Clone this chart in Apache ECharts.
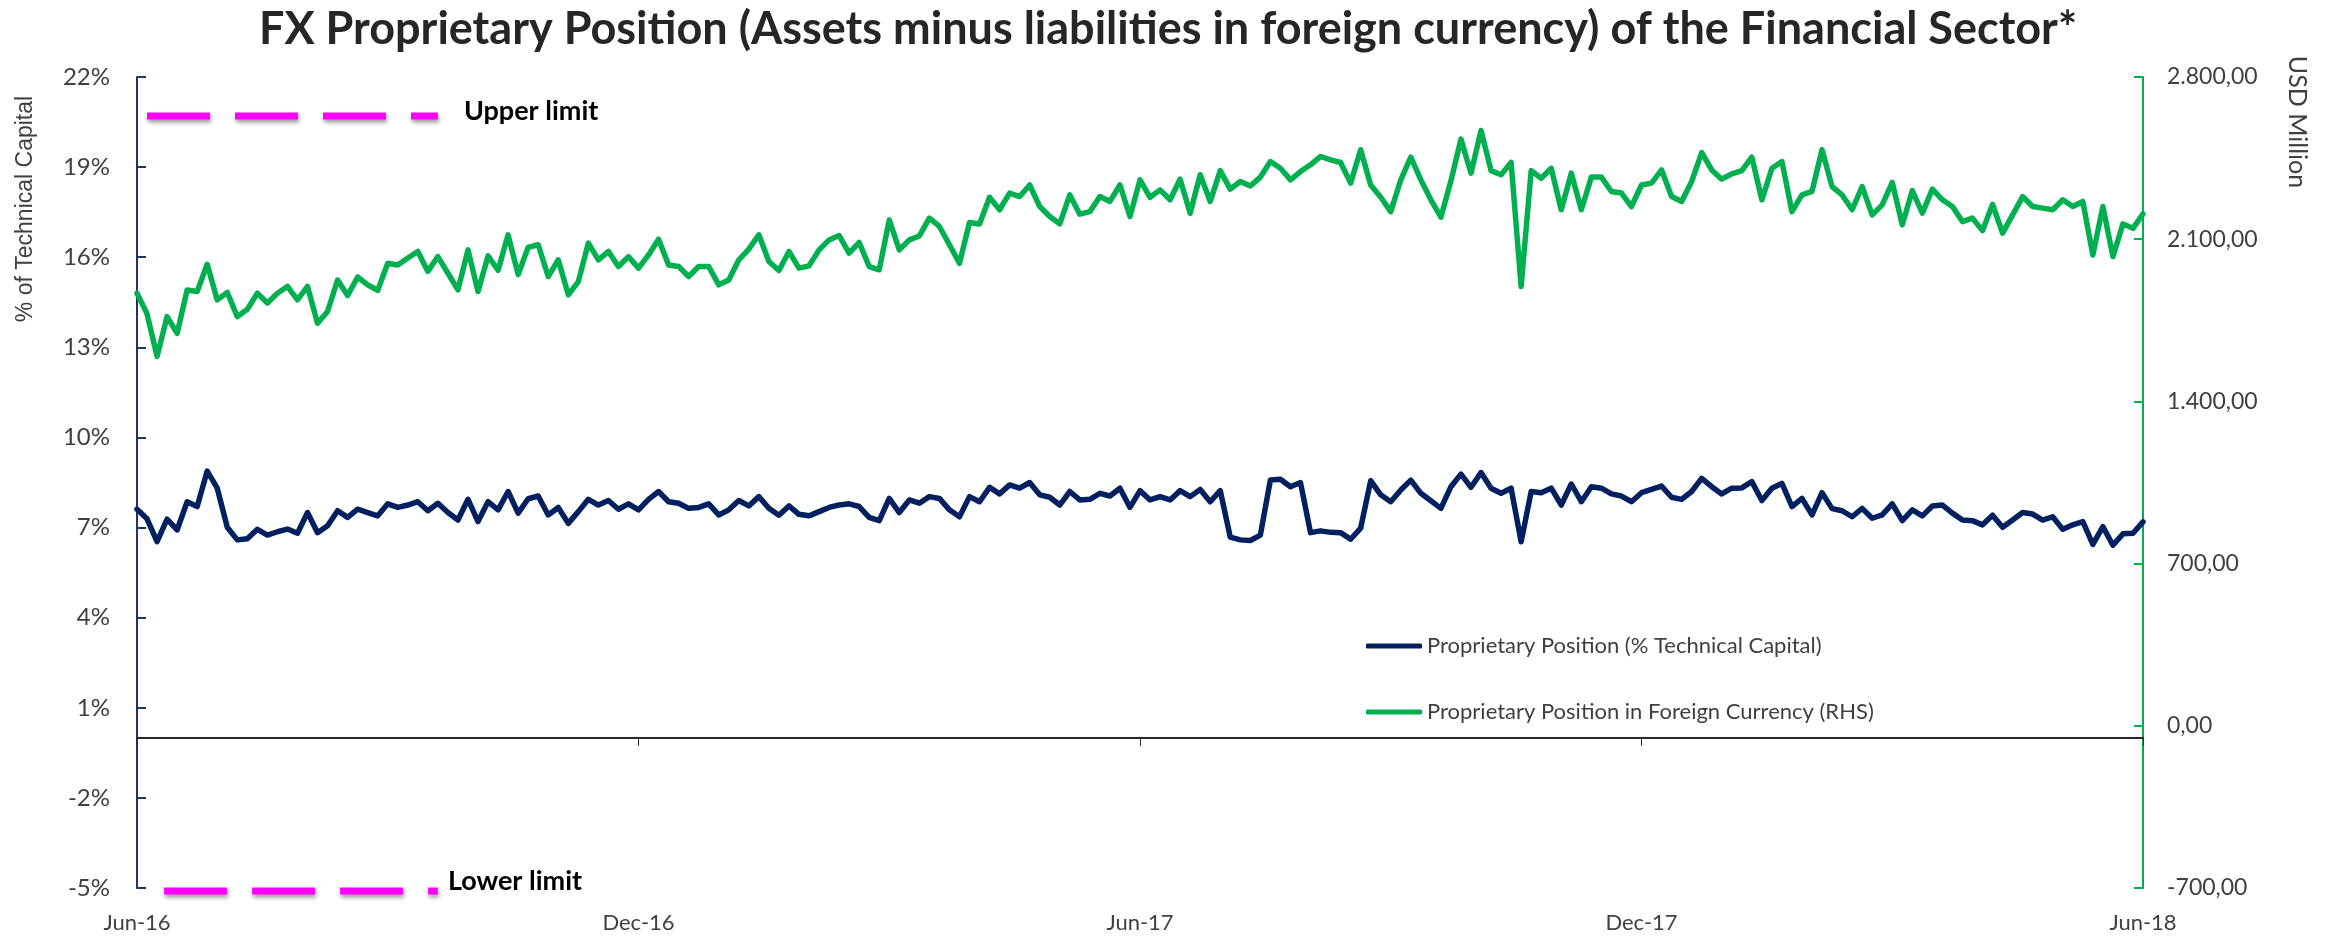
<!DOCTYPE html>
<html>
<head>
<meta charset="utf-8">
<title>FX Proprietary Position</title>
<script src="https://cdn.jsdelivr.net/npm/echarts@6/dist/echarts.min.js"></script>
<style>
  html, body { margin: 0; padding: 0; background: #fff; }
  #chart { width: 2336px; height: 937px; }
</style>
</head>
<body>
<div id="chart"></div>
<script>
// tick labels on the date axis, one every 50 samples
const tickLabels = ['Jun-16', 'Dec-16', 'Jun-17', 'Dec-17', 'Jun-18']
const pointsPerTick = 50

// Proprietary Position (% Technical Capital), left axis
const positionPct = [
  7.61, 7.29, 6.53, 7.28, 6.92, 7.86, 7.70, 8.88, 8.31, 7.01, 6.59, 6.63, 6.94, 6.75, 6.86, 6.95, 6.81, 7.50, 6.83, 7.06,
  7.56, 7.34, 7.61, 7.50, 7.39, 7.79, 7.67, 7.75, 7.86, 7.56, 7.81, 7.50, 7.25, 7.94, 7.20, 7.86, 7.59, 8.20, 7.48, 7.96,
  8.05, 7.42, 7.67, 7.14, 7.53, 7.94, 7.75, 7.90, 7.61, 7.79, 7.59, 7.94, 8.20, 7.86, 7.81, 7.64, 7.67, 7.79, 7.42, 7.59,
  7.90, 7.72, 8.03, 7.64, 7.41, 7.72, 7.44, 7.39, 7.53, 7.67, 7.75, 7.79, 7.70, 7.34, 7.23, 7.97, 7.50, 7.92, 7.81, 8.03,
  7.97, 7.59, 7.36, 8.03, 7.86, 8.34, 8.12, 8.42, 8.31, 8.50, 8.09, 8.01, 7.75, 8.20, 7.92, 7.94, 8.14, 8.05, 8.31, 7.67,
  8.23, 7.92, 8.03, 7.92, 8.23, 8.03, 8.27, 7.86, 8.23, 6.68, 6.59, 6.57, 6.75, 8.58, 8.61, 8.36, 8.50, 6.83, 6.89, 6.84,
  6.83, 6.61, 6.98, 8.56, 8.09, 7.86, 8.25, 8.58, 8.14, 7.89, 7.64, 8.36, 8.78, 8.34, 8.83, 8.31, 8.14, 8.31, 6.53, 8.20,
  8.16, 8.31, 7.75, 8.45, 7.86, 8.36, 8.31, 8.12, 8.05, 7.86, 8.16, 8.27, 8.38, 8.01, 7.94, 8.20, 8.64, 8.36, 8.12, 8.31,
  8.32, 8.53, 7.90, 8.31, 8.47, 7.70, 7.97, 7.42, 8.16, 7.63, 7.56, 7.36, 7.64, 7.31, 7.42, 7.79, 7.23, 7.59, 7.39, 7.72,
  7.75, 7.48, 7.25, 7.23, 7.09, 7.41, 7.01, 7.25, 7.50, 7.45, 7.25, 7.36, 6.94, 7.09, 7.20, 6.44, 7.03, 6.41, 6.79, 6.81,
  7.19
]

// Proprietary Position in Foreign Currency, USD million, right axis
const positionUsd = [
  1867, 1778, 1594, 1766, 1694, 1881, 1874, 1992, 1838, 1870, 1766, 1798, 1867, 1825, 1867, 1896, 1838, 1896, 1737, 1788,
  1924, 1857, 1937, 1903, 1879, 1996, 1989, 2019, 2047, 1961, 2025, 1953, 1881, 2054, 1874, 2028, 1966, 2119, 1947, 2065,
  2076, 1939, 2011, 1860, 1917, 2083, 2011, 2047, 1982, 2025, 1975, 2032, 2100, 1989, 1982, 1939, 1982, 1982, 1903, 1924,
  2011, 2057, 2119, 2004, 1965, 2047, 1975, 1985, 2054, 2097, 2116, 2040, 2086, 1982, 1968, 2183, 2054, 2097, 2114, 2191,
  2155, 2076, 1996, 2172, 2166, 2281, 2227, 2299, 2284, 2334, 2241, 2198, 2166, 2291, 2208, 2219, 2284, 2263, 2334, 2198,
  2356, 2281, 2313, 2270, 2359, 2212, 2378, 2263, 2396, 2316, 2349, 2330, 2368, 2435, 2406, 2356, 2392, 2421, 2457, 2442,
  2431, 2342, 2486, 2334, 2281, 2219, 2356, 2454, 2356, 2270, 2195, 2352, 2532, 2385, 2569, 2396, 2378, 2431, 1896, 2396,
  2363, 2406, 2227, 2385, 2227, 2368, 2368, 2306, 2299, 2241, 2334, 2342, 2399, 2284, 2263, 2349, 2474, 2399, 2359, 2382,
  2396, 2454, 2270, 2406, 2435, 2219, 2291, 2306, 2486, 2327, 2291, 2227, 2327, 2205, 2248, 2345, 2162, 2310, 2212, 2316,
  2270, 2241, 2176, 2191, 2137, 2250, 2126, 2205, 2284, 2241, 2234, 2227, 2270, 2241, 2263, 2032, 2241, 2025, 2166, 2147,
  2209
]

// regulatory limits (% of technical capital) and the samples they are drawn over
const upperLimit = 20.7
const lowerLimit = -5.1
const upperSpan = [1, 30]
const lowerSpan = [2, 30]

const leftTicks = [-5, -2, 1, 4, 7, 10, 13, 16, 19, 22]

const sampleSlots = positionPct.map((v, i) => String(i))

const NAVY = '#002060'
const GREEN = '#00B050'
const MAGENTA = '#FF00FF'
const GREY_TEXT = '#404040'
const FONT = 'Lato'

function limitData(value, span) {
  return sampleSlots.map((s, i) => (i >= span[0] && i <= span[1] ? value : null))
}

function usdFormat(v) {
  const s = Math.abs(v).toFixed(0).replace(/\B(?=(\d{3})+(?!\d))/g, '.')
  return (v < 0 ? '-' : '') + s + ',00'
}

function limitSeries(name, value, span, dashOffset, labelDistance, labelOffset) {
  return {
    name: name,
    type: 'line',
    yAxisIndex: 0,
    data: limitData(value, span),
    symbol: 'none',
    silent: true,
    clip: false,
    lineStyle: {
      color: MAGENTA,
      width: 7,
      type: [63, 25],
      dashOffset: dashOffset,
      cap: 'butt',
      shadowColor: 'rgba(0, 0, 0, 0.4)',
      shadowBlur: 4,
      shadowOffsetX: 1,
      shadowOffsetY: 3
    },
    endLabel: {
      show: true,
      formatter: name,
      distance: labelDistance,
      offset: labelOffset,
      fontFamily: FONT,
      fontWeight: 'bold',
      fontSize: 27,
      color: '#000'
    },
    z: 4
  }
}

const chart = echarts.init(document.getElementById('chart'))
chart.setOption({
  animation: false,
  backgroundColor: '#fff',
  title: {
    text: 'FX Proprietary Position (Assets minus liabilities in foreign currency) of the Financial Sector*',
    left: 'center',
    top: 2,
    textStyle: { fontFamily: FONT, fontWeight: 'bold', fontSize: 45, color: '#262626' }
  },
  grid: { left: 137, right: 193, top: 77, bottom: 49, containLabel: false, outerBoundsMode: 'none' },
  legend: {
    orient: 'vertical',
    left: 1361,
    top: 627,
    icon: 'roundRect',
    itemWidth: 56,
    itemHeight: 5,
    itemGap: 38,
    data: ['Proprietary Position (% Technical Capital)', 'Proprietary Position in Foreign Currency (RHS)'],
    textStyle: { fontFamily: FONT, fontSize: 22, color: GREY_TEXT, lineHeight: 28 }
  },
  xAxis: {
    type: 'category',
    data: sampleSlots,
    boundaryGap: false,
    axisLine: { show: true, onZero: true, onZeroAxisIndex: 0, lineStyle: { color: '#262626', width: 2 } },
    axisTick: {
      show: true,
      interval: (i) => i % pointsPerTick === 0,
      length: 8,
      lineStyle: { color: '#262626', width: 1 }
    },
    axisLabel: {
      interval: (i) => i % pointsPerTick === 0,
      formatter: (value, i) => tickLabels[i / pointsPerTick],
      margin: 24,
      fontFamily: FONT,
      fontSize: 22,
      color: GREY_TEXT
    },
    splitLine: { show: false }
  },
  yAxis: [
    {
      type: 'value',
      position: 'left',
      min: -5,
      max: 22,
      name: '% of Technical Capital',
      nameLocation: 'middle',
      nameRotate: 90,
      nameGap: 100,
      nameTextStyle: { fontFamily: 'Liberation Sans', fontSize: 23, color: GREY_TEXT, padding: [0, 0, 0, 547] },
      axisLine: { show: true, onZero: false, lineStyle: { color: '#1F3468', width: 2 } },
      axisTick: { show: true, inside: true, length: 9, customValues: leftTicks, lineStyle: { color: '#1F3468', width: 2 } },
      axisLabel: { customValues: leftTicks, formatter: '{value}%', margin: 27, fontFamily: FONT, fontSize: 24, color: GREY_TEXT },
      splitLine: { show: false }
    },
    {
      type: 'value',
      position: 'right',
      min: -700,
      max: 2800,
      interval: 700,
      name: 'USD Million',
      nameLocation: 'middle',
      nameRotate: -90,
      nameGap: 142,
      nameTextStyle: { fontFamily: FONT, fontSize: 25, color: GREY_TEXT, padding: [0, 721, 0, 0] },
      axisLine: { show: true, onZero: false, lineStyle: { color: GREEN, width: 2 } },
      axisTick: { show: true, inside: true, length: 9, lineStyle: { color: GREEN, width: 2 } },
      axisLabel: { formatter: usdFormat, margin: 24, fontFamily: FONT, fontSize: 23, color: GREY_TEXT },
      splitLine: { show: false }
    }
  ],
  series: [
    {
      name: 'Proprietary Position (% Technical Capital)',
      type: 'line',
      yAxisIndex: 0,
      data: positionPct,
      symbol: 'none',
      itemStyle: { color: NAVY },
      lineStyle: { color: NAVY, width: 5.5, cap: 'round', join: 'round' },
      z: 3
    },
    {
      name: 'Proprietary Position in Foreign Currency (RHS)',
      type: 'line',
      yAxisIndex: 1,
      data: positionUsd,
      symbol: 'none',
      itemStyle: { color: GREEN },
      lineStyle: { color: GREEN, width: 5.5, cap: 'round', join: 'round' },
      z: 3
    },
    limitSeries('Upper limit', upperLimit, upperSpan, 0, 26, [0, -5]),
    limitSeries('Lower limit', lowerLimit, lowerSpan, 81, 10, [0, -10])
  ]
})
window.addEventListener('resize', function() {
  chart.resize()
})
</script>
</body>
</html>
